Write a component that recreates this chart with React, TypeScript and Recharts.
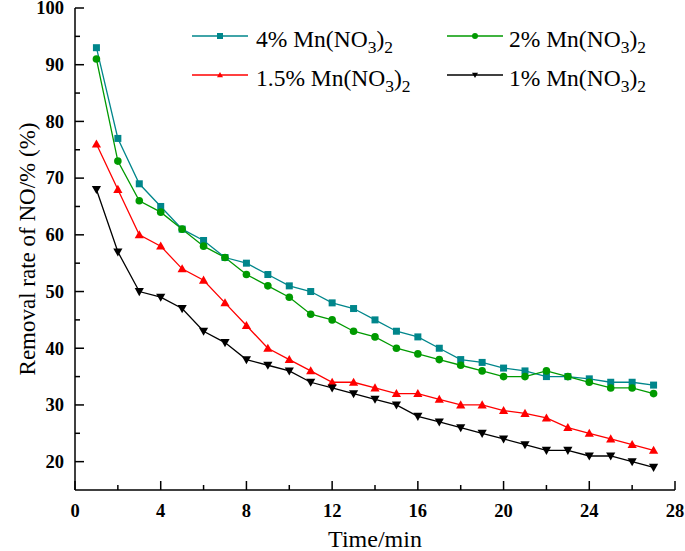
import React from "react";
import { LineChart, Line, XAxis, YAxis } from "recharts";

const times = [1, 2, 3, 4, 5, 6, 7, 8, 9, 10, 11, 12, 13, 14, 15, 16, 17, 18, 19, 20, 21, 22, 23, 24, 25, 26, 27];
const mn4 = [93, 77, 69, 65, 61, 59, 56, 55, 53, 51, 50, 48, 47, 45, 43, 42, 40, 38, 37.5, 36.5, 36, 35, 35, 34.6, 34, 34, 33.5];
const mn2 = [91, 73, 66, 64, 61, 58, 56, 53, 51, 49, 46, 45, 43, 42, 40, 39, 38, 37, 36, 35, 35, 36, 35, 34, 33, 33, 32];
const mn15 = [76, 68, 60, 58, 54, 52, 48, 44, 40, 38, 36, 34, 34, 33, 32, 32, 31, 30, 30, 29, 28.5, 27.7, 26, 25, 24, 23, 22];
const mn1 = [68, 57, 50, 49, 47, 43, 41, 38, 37, 36, 34, 33, 32, 31, 30, 28, 27, 26, 25, 24, 23, 22, 22, 21, 21, 20, 19];

const xTicks = [0, 2, 4, 6, 8, 10, 12, 14, 16, 18, 20, 22, 24, 26, 28];
const yTicks = [20, 25, 30, 35, 40, 45, 50, 55, 60, 65, 70, 75, 80, 85, 90, 95, 100];

const FONT = "'Liberation Serif', 'Times New Roman', Times, serif";
const txt = { fontFamily: FONT };

const data = times.map((t, i) => ({ t, mn4: mn4[i], mn2: mn2[i], mn15: mn15[i], mn1: mn1[i] }));

// marker shapes
const square = (color: string, s = 3.5) => (p: any) => (
  <rect key={p.index} x={p.cx - s} y={p.cy - s} width={s * 2} height={s * 2} fill={color} />
);
const circle = (color: string, r = 3.8) => (p: any) => (
  <circle key={p.index} cx={p.cx} cy={p.cy} r={r} fill={color} />
);
const triUp = (color: string, s = 4.6) => (p: any) => (
  <polygon key={p.index} points={`${p.cx},${p.cy - s} ${p.cx + s},${p.cy + s * 0.75} ${p.cx - s},${p.cy + s * 0.75}`} fill={color} />
);
const triDown = (color: string, s = 4.6) => (p: any) => (
  <polygon key={p.index} points={`${p.cx},${p.cy + s} ${p.cx + s},${p.cy - s * 0.75} ${p.cx - s},${p.cy - s * 0.75}`} fill={color} />
);

const series = [
  { key: "mn4", pct: "4%", color: "#00868B", dot: square, col: 0, row: 0 },
  { key: "mn2", pct: "2%", color: "#009a00", dot: circle, col: 1, row: 0 },
  { key: "mn15", pct: "1.5%", color: "#ff0000", dot: triUp, col: 0, row: 1 },
  { key: "mn1", pct: "1%", color: "#000000", dot: triDown, col: 1, row: 1 },
];

const renderXTick = (p: any) => {
  const v = p.payload.value;
  const major = v % 4 === 0;
  return (
    <g>
      <line x1={p.x} x2={p.x} y1={p.y} y2={p.y - (major ? 9 : 5)} stroke="#000" strokeWidth={1.5} />
      {major && (
        <text x={p.x} y={p.y + 27} textAnchor="middle" style={txt} fontWeight="bold" fontSize={18.5} fill="#000">
          {v}
        </text>
      )}
    </g>
  );
};

const renderYTick = (p: any) => {
  const v = p.payload.value;
  const major = v % 10 === 0;
  return (
    <g>
      <line x1={p.x} x2={p.x + (major ? 9 : 5)} y1={p.y} y2={p.y} stroke="#000" strokeWidth={1.5} />
      {major && (
        <text x={p.x - 11} y={p.y + 6.3} textAnchor="end" style={txt} fontWeight="bold" fontSize={18.5} fill="#000">
          {v}
        </text>
      )}
    </g>
  );
};

const Legend2 = () => (
  <svg width={685} height={551} style={{ position: "absolute", left: 0, top: 0, pointerEvents: "none" }}>
    {series.map((s) => {
      const x0 = s.col === 0 ? 192 : 447;
      const tx = s.col === 0 ? 256 : 509;
      const ly = s.row === 0 ? 36 : 75;
      const by = s.row === 0 ? 47 : 86;
      const Dot = s.dot(s.color, 3);
      return (
        <g key={s.key}>
          <line x1={x0} x2={x0 + 56} y1={ly} y2={ly} stroke={s.color} strokeWidth={1.3} />
          {Dot({ cx: x0 + 28, cy: ly, index: 0 })}
          <text x={tx} y={by} style={txt} fontSize={23.5} fill="#000">
            {s.pct} Mn(NO
            <tspan fontSize={17.5} dy={6}>3</tspan>
            <tspan dy={-6}>)</tspan>
            <tspan fontSize={17.5} dy={6}>2</tspan>
          </text>
        </g>
      );
    })}
  </svg>
);

export default function App() {
  return (
    <div style={{ position: "absolute", left: 0, top: 0, width: 685, height: 551, background: "#fff" }}>
      <LineChart width={685} height={551} data={data} margin={{ top: 8, right: 10, left: 0, bottom: 0 }}>
        <XAxis
          dataKey="t"
          type="number"
          domain={[0, 28]}
          ticks={xTicks}
          interval={0}
          height={61}
          tickSize={0}
          tickMargin={0}
          tickLine={false}
          tick={renderXTick}
          axisLine={{ stroke: "#000", strokeWidth: 1.5 }}
          label={{
            content: (lp: any) => {
              const vb = lp.viewBox;
              return (
                <text x={vb.x + vb.width / 2} y={547} textAnchor="middle" style={txt} fontSize={24} fill="#000">
                  Time/min
                </text>
              );
            },
          }}
        />
        <XAxis xAxisId="top" orientation="top" type="number" domain={[0, 28]} height={0} tick={false} tickLine={false} axisLine={{ stroke: "#000", strokeWidth: 1.5 }} />
        <YAxis
          type="number"
          domain={[15, 100]}
          ticks={yTicks}
          interval={0}
          width={75}
          tickSize={0}
          tickMargin={0}
          tickLine={false}
          tick={renderYTick}
          axisLine={{ stroke: "#000", strokeWidth: 1.5 }}
          label={{
            content: (lp: any) => {
              const vb = lp.viewBox;
              const cy = vb.y + vb.height / 2;
              return (
                <text x={35} y={cy} transform={`rotate(-90 35 ${cy})`} textAnchor="middle" style={txt} fontSize={23} fill="#000">
                  Removal rate of NO/% (%)
                </text>
              );
            },
          }}
        />
        <YAxis yAxisId="right" orientation="right" type="number" domain={[15, 100]} width={0} tick={false} tickLine={false} axisLine={{ stroke: "#000", strokeWidth: 1.5 }} />
        {series.map((s) => (
          <Line
            key={s.key}
            dataKey={s.key}
            type="linear"
            stroke={s.color}
            strokeWidth={1.3}
            dot={s.dot(s.color)}
            activeDot={false}
            isAnimationActive={false}
          />
        ))}
      </LineChart>
      <Legend2 />
    </div>
  );
}
